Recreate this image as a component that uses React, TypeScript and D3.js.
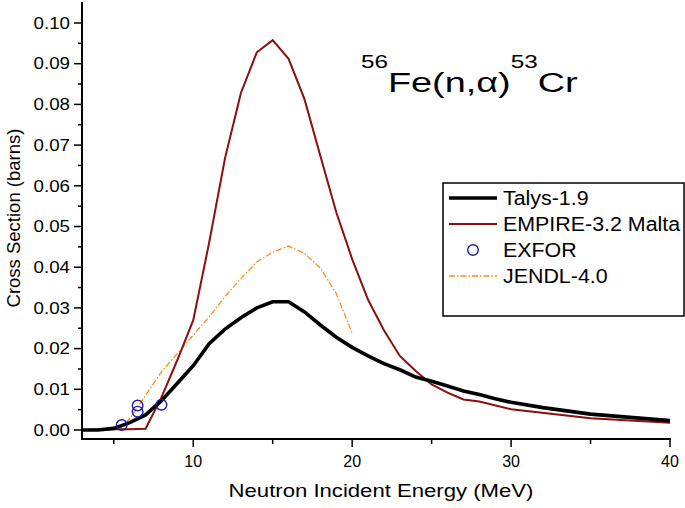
import React from "react";
import * as d3 from "d3";

const talysE = [3, 4, 5, 6, 7, 8, 9, 10, 11, 12, 13, 14, 15, 16, 17, 18, 19, 20, 21, 22, 23, 24, 25, 26, 27, 28, 29, 30, 32, 35, 40];
const talysXS = [0, 0.0, 0.0004, 0.0018, 0.0037, 0.0072, 0.0115, 0.0158, 0.0212, 0.0248, 0.0276, 0.03, 0.0315, 0.0315, 0.029, 0.0258, 0.0228, 0.0203, 0.0182, 0.0163, 0.0148, 0.013, 0.012, 0.0108, 0.0096, 0.0087, 0.0077, 0.0068, 0.0055, 0.0039, 0.0023];

const empireE = [3, 4, 5, 6, 7, 8, 9, 10, 11, 12, 13, 14, 15, 16, 17, 18, 19, 20, 21, 22, 23, 24, 25, 26, 27, 28, 30, 35, 40];
const empireXS = [0, 0.0001, 0.0002, 0.0002, 0.0003, 0.008, 0.0172, 0.027, 0.046, 0.0668, 0.0828, 0.0928, 0.0958, 0.0912, 0.0813, 0.0673, 0.0535, 0.042, 0.032, 0.0245, 0.0182, 0.0145, 0.0112, 0.0092, 0.0075, 0.007, 0.0051, 0.0029, 0.0018];

const jendlE = [3, 4, 5, 5.5, 6, 7, 8, 9, 10, 11, 12, 13, 14, 15, 16, 17, 18, 19, 20];
const jendlXS = [0, 0, 0.0002, 0.0008, 0.0028, 0.0085, 0.0143, 0.0188, 0.0233, 0.0278, 0.0328, 0.0372, 0.0413, 0.0437, 0.0452, 0.0434, 0.0398, 0.0335, 0.0238];

const exforE = [5.5, 6.5, 6.5, 8.0];
const exforXS = [0.0012, 0.0045, 0.006, 0.0062];

const xMajor = [10, 20, 30, 40];
const xMinor = [5, 15, 25, 35];
const yMajor = [0, 0.01, 0.02, 0.03, 0.04, 0.05, 0.06, 0.07, 0.08, 0.09, 0.1];
const yMinor = [0.005, 0.015, 0.025, 0.035, 0.045, 0.055, 0.065, 0.075, 0.085, 0.095];

const legendLabels = ["Talys-1.9", "EMPIRE-3.2 Malta", "EXFOR", "JENDL-4.0"];

const FONT = "'Liberation Sans', Arial, sans-serif";

export default function App() {
  const x = d3.scaleLinear().domain([3, 40]).range([82, 670]);
  const y = d3.scaleLinear().domain([0, 0.1]).range([430, 23]);
  const y0 = 439;
  const yTop = 2;

  const mk = (E: number[], V: number[]) =>
    d3
      .line<number>()
      .x((_, i) => x(E[i]))
      .y((d) => y(d))(V) || "";

  const talysColor = "#000000";
  const empireColor = "#8b0f0f";
  const jendlColor = "#ff8c1a";
  const exforColor = "#1c1ca0";

  const legRowY = [198, 224, 250, 276];

  return (
    <svg
      width={685}
      height={508}
      style={{ position: "fixed", left: 0, top: 0, background: "#fff" }}
      fontFamily={FONT}
    >
      <rect x={0} y={0} width={685} height={508} fill="#fff" />

      {/* data lines */}
      <path d={mk(jendlE, jendlXS)} fill="none" stroke={jendlColor} strokeWidth={1.3} strokeDasharray="6,2,1.5,2" />
      <path d={mk(empireE, empireXS)} fill="none" stroke={empireColor} strokeWidth={2} strokeLinejoin="miter" />
      <path d={mk(talysE, talysXS)} fill="none" stroke={talysColor} strokeWidth={3.6} />
      {exforE.map((e, i) => (
        <circle key={i} cx={x(e)} cy={y(exforXS[i])} r={5.3} fill="none" stroke={exforColor} strokeWidth={1.4} />
      ))}

      {/* axes */}
      <line x1={82} x2={82} y1={yTop} y2={y0 + 1} stroke="#000" strokeWidth={2} />
      <line x1={81} x2={671} y1={y0} y2={y0} stroke="#000" strokeWidth={2} />
      {yMajor.map((v) => (
        <g key={"ym" + v}>
          <line x1={74} x2={82} y1={y(v)} y2={y(v)} stroke="#000" strokeWidth={1.5} />
          <text
            transform={`translate(70,${y(v) + 5.7}) scale(1.17,1)`}
            textAnchor="end"
            fontSize={16}
            fill="#000"
          >
            {v.toFixed(2)}
          </text>
        </g>
      ))}
      {yMinor.map((v) => (
        <line key={"yn" + v} x1={78} x2={82} y1={y(v)} y2={y(v)} stroke="#000" strokeWidth={1.5} />
      ))}
      {xMajor.map((v) => (
        <g key={"xm" + v}>
          <line x1={x(v)} x2={x(v)} y1={y0} y2={y0 + 8} stroke="#000" strokeWidth={1.5} />
          <text x={x(v)} y={467} textAnchor="middle" fontSize={16} fill="#000">
            {v}
          </text>
        </g>
      ))}
      {xMinor.map((v) => (
        <line key={"xn" + v} x1={x(v)} x2={x(v)} y1={y0} y2={y0 + 5} stroke="#000" strokeWidth={1.5} />
      ))}

      {/* axis titles */}
      <text transform="translate(381,497) scale(1.23,1)" textAnchor="middle" fontSize={18} fill="#000">
        Neutron Incident Energy (MeV)
      </text>
      <text transform="translate(20,218) rotate(-90)" textAnchor="middle" fontSize={18.5} fill="#000">
        Cross Section (barns)
      </text>

      {/* title */}
      <text transform="translate(361,92) scale(1.35,1)" fill="#000">
        <tspan fontSize={18} dy={-24}>56</tspan>
        <tspan fontSize={28} dy={24}>Fe(n,α)</tspan>
        <tspan fontSize={18} dy={-24}>53</tspan>
        <tspan fontSize={28} dy={24}>Cr</tspan>
      </text>

      {/* legend */}
      <rect x={443} y={183} width={241} height={133} fill="#fff" stroke="#000" strokeWidth={1.5} />
      <line x1={449} x2={497} y1={legRowY[0]} y2={legRowY[0]} stroke={talysColor} strokeWidth={3.6} />
      <line x1={449} x2={497} y1={legRowY[1]} y2={legRowY[1]} stroke={empireColor} strokeWidth={2} />
      <circle cx={473} cy={legRowY[2]} r={5.3} fill="none" stroke={exforColor} strokeWidth={1.4} />
      <line x1={449} x2={497} y1={legRowY[3]} y2={legRowY[3]} stroke={jendlColor} strokeWidth={1.3} strokeDasharray="6,2,1.5,2" />
      {legendLabels.map((t, i) => (
        <text
          key={t}
          transform={`translate(503,${legRowY[i] + 7}) scale(1.07,1)`}
          fontSize={20}
          fill="#000"
        >
          {t}
        </text>
      ))}
    </svg>
  );
}
